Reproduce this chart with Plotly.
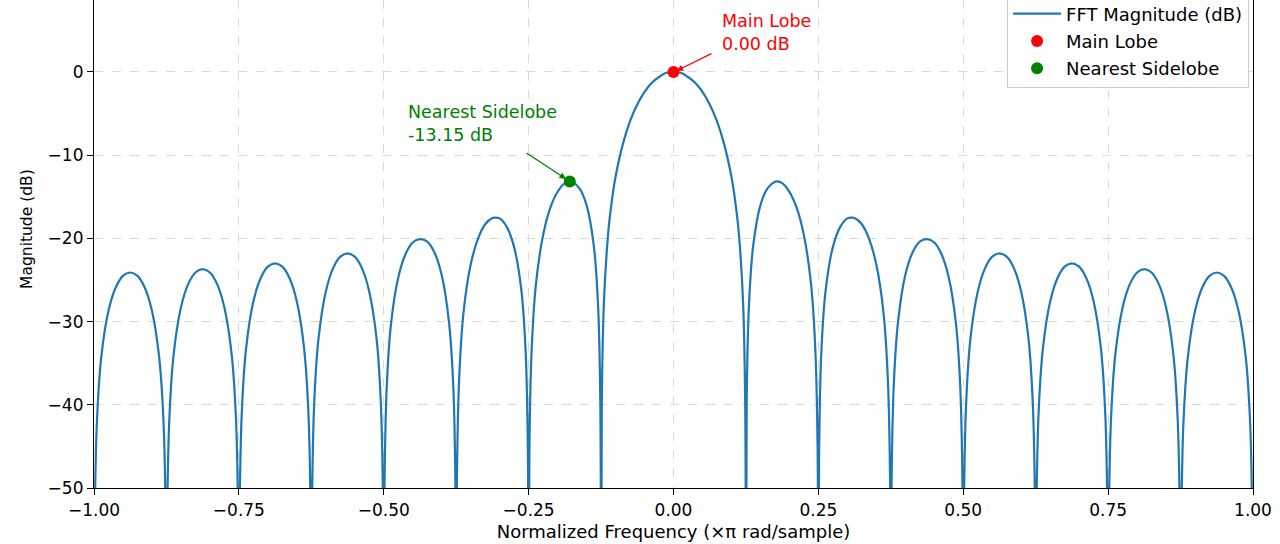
import plotly.graph_objects as go

# FFT magnitude of the window (dB)
# nulls are far below the axis floor, so they are stored as -100
freq = [
    -1.0, -0.99875, -0.995, -0.9875, -0.975, -0.9625, -0.95, -0.9375, -0.925, -0.9125, -0.9, -0.8875, -0.88, -0.87625,
    -0.875, -0.87375, -0.87, -0.8625, -0.85, -0.8375, -0.825, -0.8125, -0.8, -0.7875, -0.775, -0.7625, -0.755, -0.75125,
    -0.75, -0.74875, -0.745, -0.7375, -0.725, -0.7125, -0.7, -0.6875, -0.675, -0.6625, -0.65, -0.6375, -0.63, -0.62625,
    -0.625, -0.62375, -0.62, -0.6125, -0.6, -0.5875, -0.575, -0.5625, -0.55, -0.5375, -0.525, -0.5125, -0.505, -0.50125,
    -0.5, -0.49875, -0.495, -0.4875, -0.475, -0.4625, -0.45, -0.4375, -0.425, -0.4125, -0.4, -0.3875, -0.38, -0.37625,
    -0.375, -0.37375, -0.37, -0.3625, -0.35, -0.3375, -0.325, -0.3125, -0.3075, -0.3, -0.2875, -0.275, -0.2625, -0.255, -0.25125,
    -0.25, -0.24875, -0.245, -0.2375, -0.225, -0.2125, -0.2, -0.1875, -0.17875, -0.175, -0.1625, -0.15, -0.1375, -0.13, -0.12625,
    -0.125, -0.12375, -0.12, -0.1125, -0.10625, -0.1, -0.0875, -0.075, -0.0625, -0.05, -0.0375, -0.025, -0.0125,
    0.0,
    0.0125, 0.025, 0.0375, 0.05, 0.0625, 0.075, 0.0875, 0.1, 0.10625, 0.1125, 0.12, 0.12375,
    0.125, 0.12625, 0.13, 0.1375, 0.15, 0.1625, 0.175, 0.17875, 0.1875, 0.2, 0.2125, 0.225, 0.2375, 0.245, 0.24875,
    0.25, 0.25125, 0.255, 0.2625, 0.275, 0.2875, 0.3, 0.3075, 0.3125, 0.325, 0.3375, 0.35, 0.3625, 0.37, 0.37375,
    0.375, 0.37625, 0.38, 0.3875, 0.4, 0.4125, 0.425, 0.4375, 0.45, 0.4625, 0.475, 0.4875, 0.495, 0.49875,
    0.5, 0.50125, 0.505, 0.5125, 0.525, 0.5375, 0.55, 0.5625, 0.575, 0.5875, 0.6, 0.6125, 0.62, 0.62375,
    0.625, 0.62625, 0.63, 0.6375, 0.65, 0.6625, 0.675, 0.6875, 0.7, 0.7125, 0.725, 0.7375, 0.745, 0.74875,
    0.75, 0.75125, 0.755, 0.7625, 0.775, 0.7875, 0.8, 0.8125, 0.825, 0.8375, 0.85, 0.8625, 0.87, 0.87375,
    0.875, 0.87625, 0.88, 0.8875, 0.9, 0.9125, 0.925, 0.9375, 0.95, 0.9625, 0.975, 0.9875, 0.995, 0.99875,
    1.0,
]
mag_db = [
    -100, -54.2, -42.1, -34.3, -28.7, -25.9, -24.5, -24.1, -24.5, -25.9, -28.7, -34.3, -42.1, -54.2,
    -100, -53.8, -41.7, -33.9, -28.3, -25.5, -24.1, -23.7, -24.1, -25.5, -28.3, -33.9, -41.7, -53.8,
    -100, -53.1, -41.0, -33.2, -27.6, -24.8, -23.4, -23.0, -23.4, -24.8, -27.6, -33.2, -41.0, -53.1,
    -100, -51.9, -39.8, -32.0, -26.4, -23.6, -22.2, -21.8, -22.2, -23.6, -26.4, -32.0, -39.8, -51.9,
    -100, -50.2, -38.1, -30.3, -24.7, -21.9, -20.5, -20.1, -20.4, -21.7, -24.4, -30.0, -37.8, -49.9,
    -100, -49.2, -37.1, -29.0, -23.15, -20.05, -18.3, -17.55, -17.5, -17.6, -18.65, -21.05, -26.25, -33.85, -45.75,
    -100, -45.9, -33.8, -25.6, -19.6, -16.3, -14.4, -13.35, -13.15, -13.2, -13.95, -16.0, -20.9, -28.3, -40.0,
    -100, -39.9, -27.6, -19.2, -15.4, -12.6, -8.7, -5.9, -3.9, -2.4, -1.3, -0.6, -0.1,
    0.0,
    -0.1, -0.6, -1.3, -2.4, -3.9, -5.9, -8.7, -12.6, -15.4, -19.2, -27.6, -39.9,
    -100, -40.0, -28.3, -20.9, -16.0, -13.95, -13.2, -13.15, -13.35, -14.4, -16.3, -19.6, -25.6, -33.8, -45.9,
    -100, -45.75, -33.85, -26.25, -21.05, -18.65, -17.6, -17.5, -17.55, -18.3, -20.05, -23.15, -29.0, -37.1, -49.2,
    -100, -49.9, -37.8, -30.0, -24.4, -21.7, -20.4, -20.1, -20.5, -21.9, -24.7, -30.3, -38.1, -50.2,
    -100, -51.9, -39.8, -32.0, -26.4, -23.6, -22.2, -21.8, -22.2, -23.6, -26.4, -32.0, -39.8, -51.9,
    -100, -53.1, -41.0, -33.2, -27.6, -24.8, -23.4, -23.0, -23.4, -24.8, -27.6, -33.2, -41.0, -53.1,
    -100, -53.8, -41.7, -33.9, -28.3, -25.5, -24.1, -23.7, -24.1, -25.5, -28.3, -33.9, -41.7, -53.8,
    -100, -54.2, -42.1, -34.3, -28.7, -25.9, -24.5, -24.1, -24.5, -25.9, -28.7, -34.3, -42.1, -54.2,
    -100,
]

main_lobe_freq = [0.0]
main_lobe_db = [0.0]
sidelobe_freq = [-0.179]
sidelobe_db = [-13.15]

x_ticks = [-1.0, -0.75, -0.5, -0.25, 0.0, 0.25, 0.5, 0.75, 1.0]
y_ticks = [-50, -40, -30, -20, -10, 0]

FONT = "DejaVu Sans"
BLUE = "#1f77b4"

fig = go.Figure()
fig.add_trace(go.Scatter(x=freq, y=mag_db, mode="lines", name="FFT Magnitude (dB)",
                         line=dict(color=BLUE, width=2.2, shape="spline", smoothing=1.0),
                         legendgroup="a"))
fig.add_trace(go.Scatter(x=main_lobe_freq, y=main_lobe_db, mode="markers", name="Main Lobe",
                         marker=dict(color="red", size=12), legendgroup="b"))
fig.add_trace(go.Scatter(x=sidelobe_freq, y=sidelobe_db, mode="markers", name="Nearest Sidelobe",
                         marker=dict(color="green", size=12), legendgroup="c"))

# labels
fig.add_annotation(x=0.0795, y=7.6, xref="x", yref="y", xanchor="left", yanchor="top",
                   text=f"Main Lobe<br>{main_lobe_db[0]:.2f} dB", showarrow=False, align="left",
                   font=dict(family=FONT, size=17.5, color="red"))
fig.add_annotation(x=-0.461, y=-3.35, xref="x", yref="y", xanchor="left", yanchor="top",
                   text=f"Nearest Sidelobe<br>{sidelobe_db[0]:.2f} dB", showarrow=False, align="left",
                   font=dict(family=FONT, size=17.5, color="green"))
# arrows
fig.add_annotation(x=0.0055, y=0.15, ax=0.068, ay=2.3, xref="x", yref="y", axref="x", ayref="y",
                   text="", showarrow=True, arrowhead=2, arrowsize=1, arrowwidth=1.3,
                   arrowcolor="red", standoff=0)
fig.add_annotation(x=-0.1855, y=-12.86, ax=-0.2562, ay=-9.62, xref="x", yref="y", axref="x", ayref="y",
                   text="", showarrow=True, arrowhead=2, arrowsize=1, arrowwidth=1.3,
                   arrowcolor="green", standoff=0)
# y axis title, placed where the reference has it
fig.add_annotation(x=-0.0578, y=0.531, xref="paper", yref="paper", xanchor="center", yanchor="middle",
                   text="Magnitude (dB)", textangle=-90, showarrow=False,
                   font=dict(family=FONT, size=15.5, color="black"))

fig.update_layout(
    width=1280, height=544,
    margin=dict(l=94, r=27, t=0, b=56, autoexpand=False),
    paper_bgcolor="white", plot_bgcolor="white",
    font=dict(family=FONT, size=17, color="black"),
    showlegend=True,
    legend=dict(x=0.9966, y=0.819, xanchor="right", yanchor="bottom",
                bgcolor="white", bordercolor="#cccccc", borderwidth=1,
                traceorder="grouped", tracegroupgap=1, itemwidth=48,
                font=dict(size=18)),
)
fig.update_xaxes(
    range=[-1, 1], tickvals=x_ticks, tickformat=".2f",
    showgrid=True, gridcolor="#d9d9d9", griddash="dash", gridwidth=1,
    showline=True, linecolor="black", linewidth=1.2, mirror=False,
    ticks="outside", ticklen=6, tickcolor="black", zeroline=False,
    title=dict(text="Normalized Frequency (×π rad/sample)", standoff=6, font=dict(size=18)),
)
fig.update_yaxes(
    range=[-50, 8.65], tickvals=y_ticks,
    showgrid=True, gridcolor="#d9d9d9", griddash="dash", gridwidth=1,
    showline=True, linecolor="black", linewidth=1.2, mirror=True,
    ticks="outside", ticklen=6, tickcolor="black", zeroline=False,
)

fig.write_html("out.html", config={"displayModeBar": False},
               post_script="document.body.style.margin='0';")
